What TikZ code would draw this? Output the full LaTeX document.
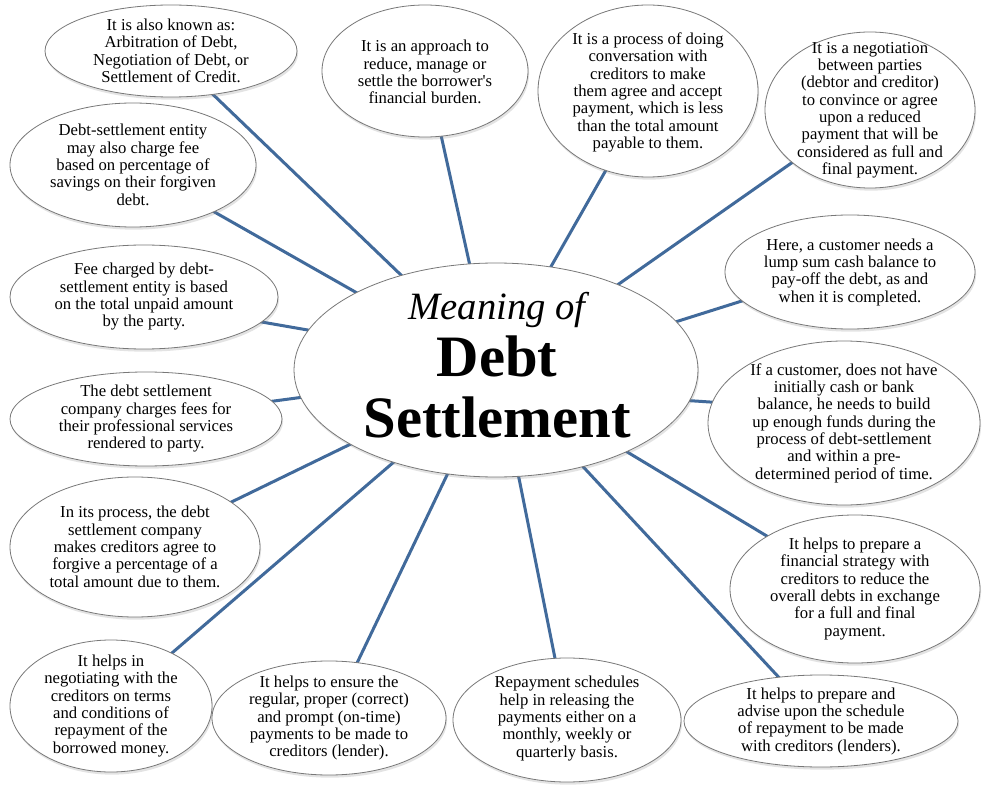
\documentclass[tikz,border=0pt]{standalone}
\usepackage{fontspec}
\setmainfont{Liberation Serif}[Ligatures=TeXOff]
\usetikzlibrary{shapes.geometric,shadows}
\pgfdeclarelayer{bg}
\pgfsetlayers{bg,main}
\definecolor{linkblue}{RGB}{65,106,155}
\definecolor{rimgray}{RGB}{120,120,120}
\tikzset{
  bubble/.style 2 args={ellipse, draw=rimgray, line width=0.6pt, fill=white,
    inner sep=0pt, outer sep=0pt, minimum width=#1*1.5pt, minimum height=#2*1.5pt,
    drop shadow={opacity=0.22, shadow xshift=0.8pt, shadow yshift=-2pt}},
  txt/.style={align=center, font=\fontsize{12.5}{13}\selectfont, inner sep=0pt},
  title/.style={anchor=base, inner sep=0pt},
  link/.style={draw=linkblue, line width=2.25pt, shorten <=-2pt, shorten >=-2pt},
}
\begin{document}
\begin{tikzpicture}[x=0.75pt, y=-0.75pt]
\useasboundingbox (0,0) rectangle (990,788);

% bubbles
\node[bubble={126}{46}]  (known)    at (171,51)  {};
\node[bubble={103}{66}]  (approach) at (425,71)  {};
\node[bubble={110}{86}]  (process)  at (648,91)  {};
\node[bubble={105}{78}]  (negot)    at (870,110) {};
\node[bubble={123}{62}]  (entity)   at (133,165) {};
\node[bubble={125}{57}]  (here)     at (850,272) {};
\node[bubble={134}{52}]  (fee)      at (144,297) {};
\node[bubble={202}{107}] (center)   at (496,370) {};
\node[bubble={136}{82}]  (ifcust)   at (844,423) {};
\node[bubble={136}{47}]  (company)  at (146,419) {};
\node[bubble={125}{70}]  (inproc)   at (135,547) {};
\node[bubble={125}{74}]  (strategy) at (855,589) {};
\node[bubble={101}{66}]  (helpsin)  at (111,706) {};
\node[bubble={117}{57}]  (ensure)   at (329,718) {};
\node[bubble={114}{62}]  (repay)    at (567,720) {};
\node[bubble={137}{46}]  (advise)   at (821,721) {};

% texts
\node[txt] (tknown) at (known) {It is also known as:\\Arbitration of Debt,\\Negotiation of Debt, or\\Settlement of Credit.};
\node[txt] (tapproach) at ([yshift=-1pt]approach.center) {It is an approach to\\reduce, manage or\\settle the borrower's\\financial burden.};
\node[txt] (tprocess) at ([yshift=-1pt]process.center) {It is a process of doing\\conversation with\\creditors to make\\them agree and accept\\payment, which is less\\than the total amount\\payable to them.};
\node[txt] (tnegot) at (negot) {It is a negotiation\\between parties\\(debtor and creditor)\\to convince or agree\\upon a reduced\\payment that will be\\considered as full and\\final payment.};
\node[txt] (tentity) at (entity) {Debt-settlement entity\\may also charge fee\\based on percentage of\\savings on their forgiven\\debt.};
\node[txt] (there) at (here) {Here, a customer needs a\\lump sum cash balance to\\pay-off the debt, as and\\when it is completed.};
\node[txt] (tfee) at (fee) {Fee charged by debt-\\settlement entity is based\\on the total unpaid amount\\by the party.};
\node[txt] (tifcust) at (ifcust) {If a customer, does not have\\initially cash or bank\\balance, he needs to build\\up enough funds during the\\process of debt-settlement\\and within a pre-\\determined period of time.};
\node[txt] (tcompany) at (company) {The debt settlement\\company charges fees for\\their professional services\\rendered to party.};
\node[txt] (tinproc) at (inproc) {In its process, the debt\\settlement company\\makes creditors agree to\\forgive a percentage of a\\total amount due to them.};
\node[txt] (tstrategy) at (strategy) {It helps to prepare a\\financial strategy with\\creditors to reduce the\\overall debts in exchange\\for a full and final\\payment.};
\node[txt] (thelpsin) at (helpsin) {It helps in\\negotiating with the\\creditors on terms\\and conditions of\\repayment of the\\borrowed money.};
\node[txt] (tensure) at (ensure) {It helps to ensure the\\regular, proper (correct)\\and prompt (on-time)\\payments to be made to\\creditors (lender).};
\node[txt] (trepay) at ([yshift=1pt]repay.center) {Repayment schedules\\help in releasing the\\payments either on a\\monthly, weekly or\\quarterly basis.};
\node[txt] (tadvise) at (advise) {It helps to prepare and\\advise upon the schedule\\of repayment to be made\\with creditors (lenders).};

% centre title
\node[title, font=\fontsize{29}{30}\selectfont\itshape] (tmeaning) at ([xshift=0.75pt,yshift=37.5pt]center.center) {Meaning of};
\node[title, font=\fontsize{44}{46}\selectfont\bfseries] (tdebt) at ([xshift=0.75pt,yshift=-5.25pt]center.center) {Debt};
\node[title, font=\fontsize{44}{46}\selectfont\bfseries] (tsettle) at ([xshift=0.75pt,yshift=-50.25pt]center.center) {Settlement};

% connectors behind the bubbles
\begin{pgfonlayer}{bg}
\fill[white] (0,0) rectangle (990,788);
\draw[link] (center.135)  -- (known.-46);
\draw[link] (center.104)  -- (approach.-76);
\draw[link] (center.62)   -- (process.-118);
\draw[link] (center.35)   -- (negot.-146);
\draw[link] (center.151)  -- (entity.-30);
\draw[link] (center.168)  -- (fee.-12);
\draw[link] (center.-172) -- (company.8);
\draw[link] (center.-153) -- (inproc.25);
\draw[link] (center.-138) -- (helpsin.41);
\draw[link] (center.-115) -- (ensure.63);
\draw[link] (center.-78)  -- (repay.101);
\draw[link] (center.-48)  -- (advise.134);
\draw[link] (center.-32)  -- (strategy.149);
\draw[link] (center.-9)   -- (ifcust.171);
\draw[link] (center.15)   -- (here.-165);
\end{pgfonlayer}
\end{tikzpicture}
\end{document}
